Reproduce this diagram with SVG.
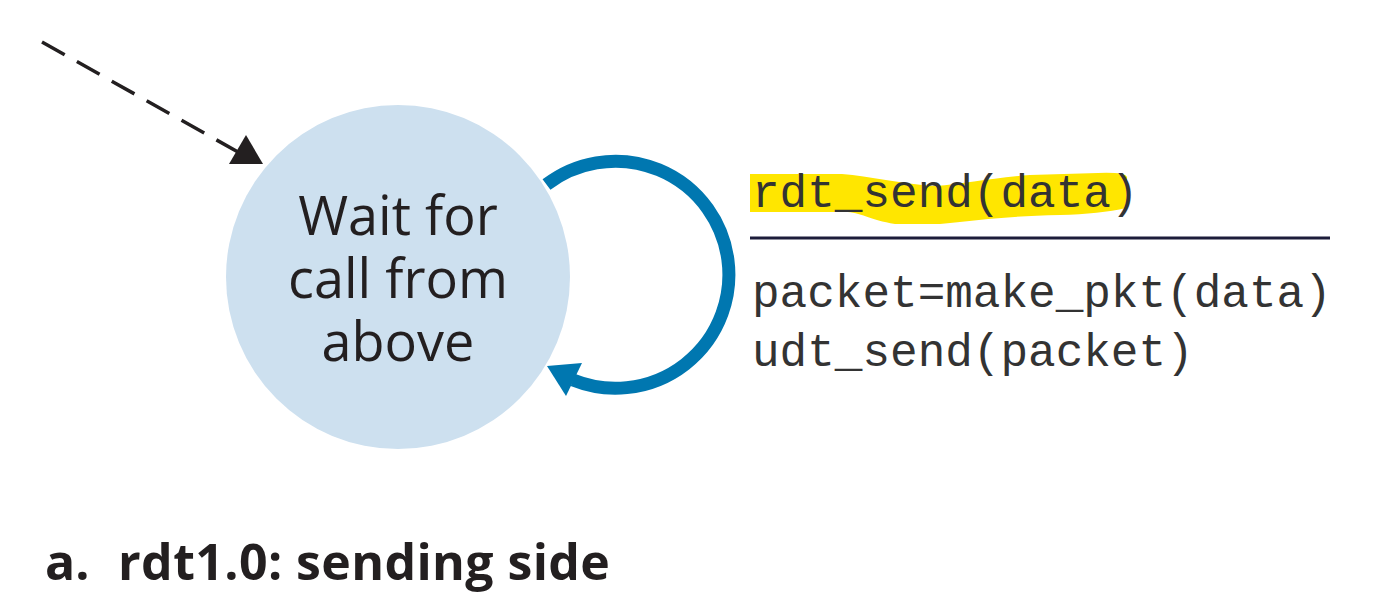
<svg xmlns="http://www.w3.org/2000/svg" width="1399" height="614" viewBox="0 0 1399 614">
<style>
.state{fill:#cde0ef}
.stxt{font-family:"Open Sans","Noto Sans",sans-serif;font-size:54px;fill:#231f20;text-anchor:middle}
.code{font-family:"Liberation Mono","DejaVu Sans Mono",monospace;font-size:46px;fill:#333333}
.title{font-family:"Open Sans","Noto Sans",sans-serif;font-weight:bold;font-size:50px;fill:#231f20}
.loop{fill:none;stroke:#0077b0;stroke-width:13}
.init{fill:none;stroke:#231f20;stroke-width:3.5;stroke-dasharray:26 14}
</style>
<rect width="1399" height="614" fill="#ffffff"/>
<g id="state-wait">
<circle class="state" cx="398" cy="277" r="172"/>
<text class="stxt" x="398" y="235">Wait for<tspan x="398" dy="63">call from</tspan><tspan x="398" dy="63">above</tspan></text>
</g>
<g id="connectors">
<line class="init" x1="42" y1="42" x2="238" y2="152"/>
<polygon points="246,135 229,164 263,164" fill="#231f20"/>
<path class="loop" d="M546.5,184.5 A113.5,113.5 0 1 1 573,380"/>
<polygon points="547,366 582,363 566,396" fill="#0077b0"/>
</g>
<g id="label">
<path d="M750,174 L842,174 C870,176 900,184 935,186 C965,184 990,178 1030,175 L1098,173 Q1125,172 1127,177 L1126,208 Q1100,214 1060,215 C1010,216 980,220 940,224 L895,224 C870,220 860,212 845,212 L750,212 Z" fill="#ffe600"/>
<text class="code" x="752" y="207">rdt_send(data)</text>
<line x1="750" y1="238" x2="1330" y2="238" stroke="#1c1c3a" stroke-width="3"/>
<text class="code" x="752" y="307">packet=make_pkt(data)</text>
<text class="code" x="752" y="366">udt_send(packet)</text>
</g>
<text class="title" x="45" y="580">a.<tspan x="118" letter-spacing="0.4">rdt1.0: sending side</tspan></text>
</svg>
